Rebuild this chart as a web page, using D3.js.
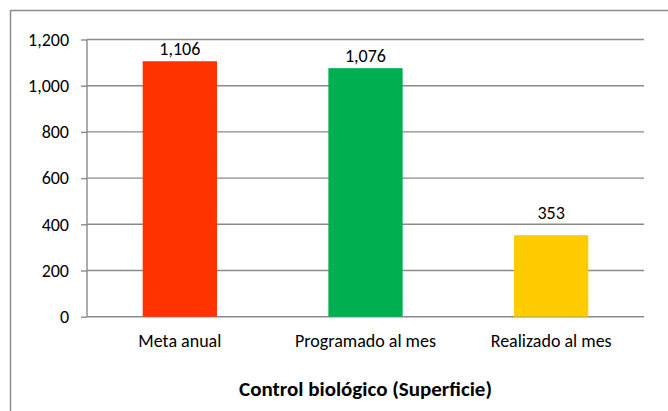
<!DOCTYPE html>
<html>
<head>
  <script src="https://d3js.org/d3.v7.min.js"></script>
  <style type="text/css">
    body { margin: 0; background-color: #ffffff; }
    text { font-family: Calibri, Carlito, Lato, sans-serif; fill: #000000; }
  </style>
</head>
<body>
<div id="chart"></div>
<script>
  var categories = ["Meta anual", "Programado al mes", "Realizado al mes"];
  var values = [1106, 1076, 353];
  var colors = ["#ff3300", "#00b050", "#ffcc00"];
  var yTicks = [0, 200, 400, 600, 800, 1000, 1200];
  var title = "Control biológico (Superficie)";

  var width = 668, height = 411;
  var svg = d3.select("#chart").append("svg").attr("width", width).attr("height", height);

  // outer chart frame (only top and left edges are in the picture)
  svg.append("rect").attr("x", 10.5).attr("y", 10.5).attr("width", 680).attr("height", 420)
    .attr("fill", "none").attr("stroke", "#8c8c8c").attr("stroke-width", 1.5);

  var plotLeft = 87, plotRight = 644, plotTop = 39.5, plotBottom = 316.7;
  var labelSize = "18px";
  var labelGap = [6, 6, 16]; // the last label sits a bit higher in the original

  var x = d3.scaleBand().domain(categories).range([plotLeft, plotRight]).paddingInner(0.6).paddingOuter(0.3);
  var y = d3.scaleLinear().domain([0, 1200]).range([plotBottom, plotTop]);

  // gridlines
  svg.append("g").selectAll("line").data(yTicks).enter().append("line")
    .attr("x1", plotLeft).attr("x2", plotRight)
    .attr("y1", function(d) { return y(d); }).attr("y2", function(d) { return y(d); })
    .attr("stroke", "#8a8a8a").attr("stroke-width", 1.4);

  // y axis
  var yAxis = svg.append("g").attr("transform", "translate(" + plotLeft + ",0)")
    .call(d3.axisLeft(y).tickValues(yTicks).tickSize(6).tickPadding(12).tickFormat(d3.format(",")));
  yAxis.select(".domain").attr("stroke", "#8a8a8a").attr("stroke-width", 1.4).attr("d", "M0," + plotBottom + "V" + plotTop);
  yAxis.selectAll(".tick line").attr("stroke", "#8a8a8a").attr("stroke-width", 1.4);
  yAxis.selectAll(".tick text").style("font-size", labelSize).attr("font-family", null).attr("fill", "#000");

  // bars
  svg.append("g").selectAll("rect").data(values).enter().append("rect")
    .attr("x", function(d, i) { return x(categories[i]); })
    .attr("y", function(d) { return y(d); })
    .attr("width", x.bandwidth())
    .attr("height", function(d) { return plotBottom - y(d); })
    .attr("fill", function(d, i) { return colors[i]; });

  // value labels
  svg.append("g").selectAll("text").data(values).enter().append("text")
    .attr("x", function(d, i) { return x(categories[i]) + x.bandwidth() / 2; })
    .attr("y", function(d, i) { return y(d) - labelGap[i]; })
    .attr("text-anchor", "middle").style("font-size", labelSize)
    .text(function(d) { return d3.format(",")(d); });

  // x labels
  var xAxis = svg.append("g").attr("transform", "translate(0," + plotBottom + ")")
    .call(d3.axisBottom(x).tickSize(0).tickPadding(17.5));
  xAxis.select(".domain").remove();
  xAxis.selectAll(".tick text").style("font-size", labelSize).attr("font-family", null).attr("fill", "#000");

  // title
  svg.append("text").attr("x", (plotLeft + plotRight) / 2).attr("y", 395.5)
    .attr("text-anchor", "middle").style("font-size", "21px").style("font-weight", "bold")
    .text(title);
</script>
</body>
</html>
